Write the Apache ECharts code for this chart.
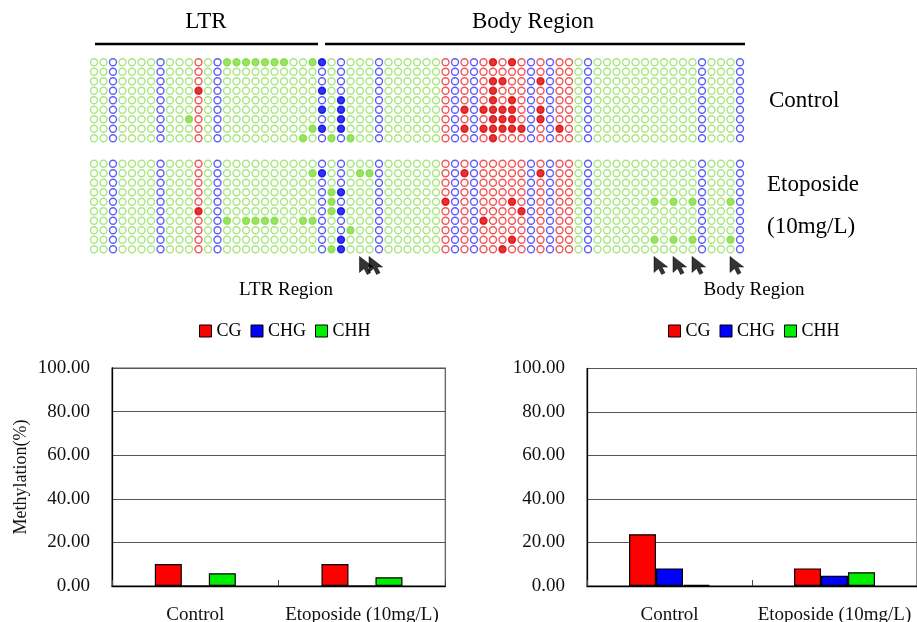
<!DOCTYPE html>
<html><head><meta charset="utf-8">
<script src="https://cdn.jsdelivr.net/npm/echarts@6/dist/echarts.min.js"></script>
<style>html,body{margin:0;padding:0;background:#fff}#c{width:917px;height:622px}</style>
</head><body><div id="c"></div>
<script>
// ---------- DATA ----------
// context type of each sequenced cytosine (G = CHH, B = CHG, R = CG), 69 columns
const columnTypes = ['G','G','B','G','G','G','G','B','G','G','G','R','G','B','G','G','G','G','G','G',
  'G','G','G','G','B','G','B','G','G','G','B','G','G','G','G','G','G','R','B','R',
  'B','R','R','R','R','R','B','R','B','R','R','G','B','G','G','G','G','G','G','G',
  'G','G','G','G','B','G','G','G','B'];
const controlRows = 9;
const etoposideRows = 10;
// methylated sites [column, clone row]
const controlMethylated = [
  [14,0],[15,0],[16,0],[17,0],[18,0],[19,0],[20,0],[23,0],[24,0],[42,0],[44,0],
  [42,2],[43,2],[47,2],
  [11,3],[24,3],[42,3],
  [26,4],[42,4],[44,4],
  [24,5],[26,5],[39,5],[41,5],[42,5],[43,5],[44,5],[47,5],
  [10,6],[26,6],[42,6],[43,6],[44,6],[47,6],
  [23,7],[24,7],[26,7],[39,7],[41,7],[42,7],[43,7],[44,7],[45,7],[49,7],
  [22,8],[25,8],[27,8],[42,8]
];
const etoposideMethylated = [
  [23,1],[24,1],[28,1],[29,1],[39,1],[47,1],
  [25,3],[26,3],
  [25,4],[37,4],[44,4],[59,4],[61,4],[63,4],[67,4],
  [11,5],[25,5],[26,5],[45,5],
  [14,6],[16,6],[17,6],[18,6],[19,6],[22,6],[23,6],[41,6],
  [27,7],
  [26,8],[44,8],[59,8],[61,8],[63,8],[67,8],
  [25,9],[26,9],[43,9]
];
const arrowColumns = [28,29,59,61,63,67];

const barCategories = ['Control','Etoposide (10mg/L)'];
const ltrCG  = [10.1, 10.1];
const ltrCHG = [0, 0];
const ltrCHH = [5.8, 4.0];
const bodyCG  = [23.8, 8.1];
const bodyCHG = [8.1, 4.7];
const bodyCHH = [0.5, 6.3];
const legendNames = ['CG','CHG','CHH'];

// ---------- STYLE ----------
const SERIF = '"Liberation Serif","Times New Roman",serif';
const openColor = {G:'#92e060', B:'#3434ff', R:'#ee2a2a'};
const fillColor = {G:'#80dc3c', B:'#0000ee', R:'#dd0000'};
const barColor = {CG:'#ff0000', CHG:'#0000ff', CHH:'#00ee00'};

function blockSeries(nRows, methylated, gi) {
  const key = new Set(methylated.map(p => p[0] + ',' + p[1]));
  const out = [];
  ['G','B','R'].forEach(t => {
    const open = [], filled = [];
    columnTypes.forEach((ct, c) => {
      if (ct !== t) return;
      for (let r = 0; r < nRows; r++) (key.has(c + ',' + r) ? filled : open).push([c, r]);
    });
    out.push({type:'scatter', xAxisIndex:gi, yAxisIndex:gi, data:open, symbol:'circle', symbolSize:7,
      silent:true, itemStyle:{color:'#fff', borderColor:openColor[t], borderWidth:1.4}});
    out.push({type:'scatter', xAxisIndex:gi, yAxisIndex:gi, data:filled, symbol:'circle', symbolSize:7,
      silent:true, z:3, itemStyle:{color:fillColor[t], borderColor:fillColor[t], borderWidth:1.4}});
  });
  return out;
}

function barSeries(gi, cg, chg, chh) {
  const mk = (name, data) => ({name, type:'bar', xAxisIndex:gi, yAxisIndex:gi, data, barWidth:27, barGap:'0%',
    silent:true, itemStyle:{color:barColor[name], borderColor:'#000', borderWidth:1.2}});
  return [mk('CG', cg), mk('CHG', chg), mk('CHH', chh)];
}

function barX(gi) {
  return {type:'category', gridIndex:gi, data:barCategories,
    axisLine:{lineStyle:{color:'#000', width:1.3}},
    axisTick:{show:true, inside:true, length:6, lineStyle:{color:'#444'}},
    axisLabel:{interval:0, fontFamily:SERIF, fontSize:19, color:'#111', margin:20}};
}
function barY(gi, withName) {
  const y = {type:'value', gridIndex:gi, min:0, max:100, interval:20,
    axisLine:{show:true, lineStyle:{color:'#000', width:1.3}}, axisTick:{show:false},
    splitLine:{lineStyle:{color:'#555', width:1.2}},
    axisLabel:{formatter:v => v.toFixed(2), fontFamily:SERIF, fontSize:19, color:'#111', margin:22}};
  if (withName) Object.assign(y, {name:'Methylation(%)', nameLocation:'middle', nameGap:82, nameRotate:90,
    nameTextStyle:{fontFamily:SERIF, fontSize:18, color:'#111'}});
  return y;
}
function legend(left) {
  return {data:legendNames, left, top:322, padding:0, icon:'rect', itemWidth:12, itemHeight:12, itemGap:9,
    selectedMode:false, itemStyle:{borderColor:'#000', borderWidth:1},
    textStyle:{fontFamily:SERIF, fontSize:18, color:'#000'}};
}

const arrowPath = 'path://M0,0 L0,16 L4.6,12 L7.6,18 L11,16.4 L8,10.6 L13.6,10.6 Z';
const txt = (text, x, y, size, align) => ({type:'text', silent:true,
  style:{text, x, y, font: size + 'px ' + SERIF, fill:'#000', textAlign:align || 'center', textVerticalAlign:'middle'}});

const chart = echarts.init(document.getElementById('c'), null, {renderer:'canvas'});
chart.setOption({
  animation:false,
  backgroundColor:'#fff',
  grid:[
    {left:89.25, top:57.55, width:655.5, height:85.5, outerBoundsMode:'none', containLabel:false},
    {left:89.25, top:158.95, width:655.5, height:95.1, outerBoundsMode:'none', containLabel:false},
    {left:112, top:368, width:333.3, height:218, show:true, borderColor:'#555', borderWidth:1.2, outerBoundsMode:'none', containLabel:false},
    {left:587, top:368.5, width:330, height:217.5, show:true, borderColor:'#555', borderWidth:1.2, outerBoundsMode:'none', containLabel:false}
  ],
  xAxis:[
    {type:'value', gridIndex:0, min:-0.5, max:68.5, show:false},
    {type:'value', gridIndex:1, min:-0.5, max:68.5, show:false},
    barX(2), barX(3)
  ],
  yAxis:[
    {type:'value', gridIndex:0, min:-0.5, max:controlRows - 0.5, inverse:true, show:false},
    {type:'value', gridIndex:1, min:-0.5, max:etoposideRows - 0.5, inverse:true, show:false},
    barY(2, true), barY(3, false)
  ],
  legend:[legend(199), legend(668)],
  graphic:[
    txt('LTR', 206, 22, 23),
    txt('Body Region', 533, 22, 23),
    {type:'line', silent:true, shape:{x1:95, y1:44, x2:318, y2:44}, style:{stroke:'#000', lineWidth:2.6}},
    {type:'line', silent:true, shape:{x1:325, y1:44, x2:745, y2:44}, style:{stroke:'#000', lineWidth:2.6}},
    txt('Control', 769, 101, 23, 'left'),
    txt('Etoposide', 767, 185, 23, 'left'),
    txt('(10mg/L)', 767, 227, 23, 'left'),
    txt('LTR Region', 286, 290, 19),
    txt('Body Region', 754, 290, 19)
  ],
  series:[
    ...blockSeries(controlRows, controlMethylated, 0),
    ...blockSeries(etoposideRows, etoposideMethylated, 1),
    {type:'scatter', xAxisIndex:1, yAxisIndex:1, clip:false, silent:true, z:5,
      data: arrowColumns.map(c => [c, 9.75]), symbol:arrowPath, symbolKeepAspect:false,
      symbolSize:[13.6,18], symbolOffset:[6.3, 9], itemStyle:{color:'#000', borderColor:'#000', borderWidth:0.6}},
    ...barSeries(2, ltrCG, ltrCHG, ltrCHH),
    ...barSeries(3, bodyCG, bodyCHG, bodyCHH)
  ]
});
</script></body></html>
